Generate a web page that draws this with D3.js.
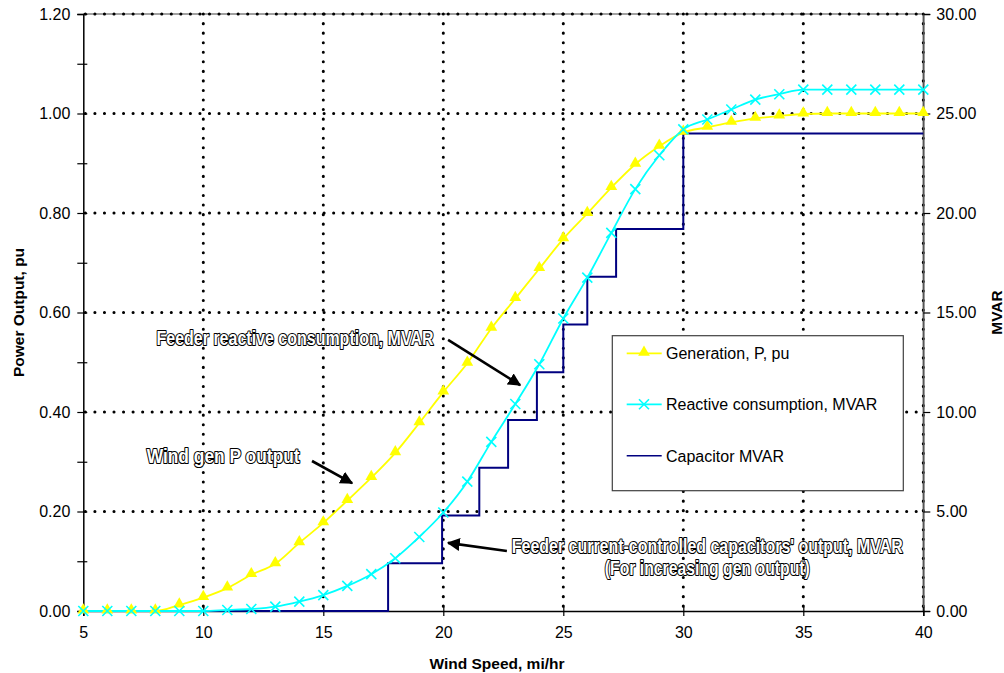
<!DOCTYPE html>
<html><head><meta charset="utf-8">
<script src="https://cdn.jsdelivr.net/npm/d3@7"></script>
<style>
html,body{margin:0;padding:0;background:#fff;}
svg{display:block;font-family:"Liberation Sans",Arial,sans-serif;}
</style></head>
<body><svg id="chart" width="1004" height="673"></svg>
<script>
// ---- data ----
const windSpeed = d3.range(5, 41); // 5..40 mi/hr
const generationPu = [0,0,0,0,0.012,0.027,0.046,0.073,0.095,0.137,0.177,0.222,0.268,0.318,0.378,0.44,0.498,0.568,0.628,0.688,0.748,0.799,0.851,0.898,0.934,0.962,0.972,0.982,0.99,0.995,0.999,1.0,1.0,1.0,1.0,1.0];
const reactiveMvar = [0,0,0,0,0,0,0.05,0.1,0.22,0.47,0.8,1.26,1.85,2.65,3.72,4.95,6.5,8.5,10.4,12.4,14.7,16.75,19.0,21.2,22.9,24.2,24.7,25.2,25.7,25.97,26.2,26.2,26.2,26.2,26.2,26.2];
const capStepSpeed = [5,17.7,19.95,21.5,22.7,23.9,25.0,26.0,27.2,30,40];
const capStepMvar  = [0,2.4,4.8,7.2,9.6,12,14.4,16.8,19.2,24,24];
const xTicks = [5,10,15,20,25,30,35,40];
const yLeftTicks = [0,0.2,0.4,0.6,0.8,1.0,1.2];
const yRightTicks = [0,5,10,15,20,25,30];
const legendLabels = ["Generation, P, pu","Reactive consumption, MVAR","Capacitor MVAR"];
const axisTitles = {x:"Wind Speed, mi/hr", yl:"Power Output, pu", yr:"MVAR"};
const notes = ["Feeder reactive consumption, MVAR","Wind gen P output","Feeder current-controlled capacitors' output, MVAR","(For increasing gen output)"];

// ---- layout ----
const L=83.3, R=923.3, T=14, B=611;
const svg = d3.select("#chart");
const x = d3.scaleLinear().domain([5,40]).range([L,R]);
const yL = d3.scaleLinear().domain([0,1.2]).range([B,T]);
const yR = d3.scaleLinear().domain([0,30]).range([B,T]);

const YEL="#FFFF00", CYN="#00FFFF", NAVY="#000080";

// plot border (gray top/right)
svg.append("line").attr("x1",L).attr("x2",R).attr("y1",T).attr("y2",T).attr("stroke","#808080").attr("stroke-width",1.5);
svg.append("line").attr("x1",R).attr("x2",R).attr("y1",T).attr("y2",B).attr("stroke","#606060").attr("stroke-width",1.5);

// gridlines (dotted)
const grid = svg.append("g").attr("stroke","#000").attr("stroke-width",3)
  .attr("stroke-linecap","round").attr("stroke-dasharray","0.1 9.45");
yLeftTicks.filter(d=>d>0).forEach(d=>{
  grid.append("line").attr("x1",L+2).attr("x2",R).attr("y1",yL(d)).attr("y2",yL(d));
});
xTicks.filter(d=>d>5).forEach(d=>{
  grid.append("line").attr("x1",x(d)).attr("x2",x(d)).attr("y1",T).attr("y2",B-2);
});

// axes
const axL = svg.append("g").attr("transform",`translate(${L},0)`)
  .call(d3.axisLeft(yL).tickValues(d3.range(0,1.21,0.1)).tickSize(6).tickFormat(d=>{
    const r=Math.round(d*10); return r%2===0? d3.format(".2f")(d):"";}));
axL.selectAll(".tick line").attr("x2",4).attr("x1",-6);
const axR = svg.append("g").attr("transform",`translate(${R},0)`)
  .call(d3.axisRight(yR).tickValues(yRightTicks).tickSize(7).tickFormat(d3.format(".2f")));
const axB = svg.append("g").attr("transform",`translate(0,${B})`)
  .call(d3.axisBottom(x).tickValues(xTicks).tickSize(5).tickFormat(d3.format("d")));
axB.selectAll(".tick line").attr("y1",-4).attr("y2",5);
[axL,axR,axB].forEach(a=>{
  a.select(".domain").attr("stroke","#000").attr("stroke-width",1.5);
  a.selectAll(".tick line").attr("stroke","#000").attr("stroke-width",1.2);
  a.selectAll("text").attr("font-size",16).attr("fill","#000").attr("font-family","Liberation Sans, Arial, sans-serif");
});
axL.selectAll("text").attr("x",-13);
axR.selectAll("text").attr("x",13);
axB.selectAll("text").attr("y",16);
axR.select(".domain").attr("stroke","#555");

// axis titles
svg.append("text").attr("x",497).attr("y",669).attr("text-anchor","middle")
  .attr("font-weight","bold").attr("font-size",15.5).text(axisTitles.x);
svg.append("text").attr("transform",`translate(24,${(T+B)/2}) rotate(-90)`).attr("text-anchor","middle")
  .attr("font-weight","bold").attr("font-size",15.5).text(axisTitles.yl);
svg.append("text").attr("transform",`translate(1002,${(T+B)/2}) rotate(-90)`).attr("text-anchor","middle")
  .attr("font-weight","bold").attr("font-size",15.5).text(axisTitles.yr);

// series
const genData = windSpeed.map((w,i)=>({w, v:generationPu[i]}));
const reaData = windSpeed.map((w,i)=>({w, v:reactiveMvar[i]}));
const capData = capStepSpeed.map((w,i)=>({w, v:capStepMvar[i]}));

svg.append("path").datum(genData).attr("fill","none").attr("stroke",YEL).attr("stroke-width",1.8)
  .attr("d",d3.line().x(d=>x(d.w)).y(d=>yL(d.v)).curve(d3.curveMonotoneX));
svg.append("path").datum(capData).attr("fill","none").attr("stroke",NAVY).attr("stroke-width",2)
  .attr("d",d3.line().x(d=>x(d.w)).y(d=>yR(d.v)).curve(d3.curveStepAfter));
svg.append("path").datum(reaData).attr("fill","none").attr("stroke",CYN).attr("stroke-width",1.8)
  .attr("d",d3.line().x(d=>x(d.w)).y(d=>yR(d.v)).curve(d3.curveMonotoneX));

const tri = d3.symbol().type(d3.symbolTriangle).size(60);
svg.append("g").selectAll("path").data(genData).join("path")
  .attr("transform",d=>`translate(${x(d.w)},${yL(d.v)-1})`).attr("d",tri).attr("fill",YEL);
const xs = 5;
svg.append("g").attr("stroke",CYN).attr("stroke-width",1.6).selectAll("path").data(reaData).join("path")
  .attr("d",d=>{const cx=x(d.w), cy=yR(d.v); return `M${cx-xs},${cy-xs}L${cx+xs},${cy+xs}M${cx-xs},${cy+xs}L${cx+xs},${cy-xs}`;});

// legend
const lg = svg.append("g");
lg.append("rect").attr("x",612.3).attr("y",335.7).attr("width",291).attr("height",155)
  .attr("fill","#fff").attr("stroke","#404040").attr("stroke-width",1.2);
const rows=[353.3,404.3,455.7];
const cols=[YEL,CYN,NAVY];
rows.forEach((ry,i)=>{
  lg.append("line").attr("x1",626.7).attr("x2",661.7).attr("y1",ry).attr("y2",ry)
    .attr("stroke",cols[i]).attr("stroke-width",i===2?1.6:1.8);
  if(i===0) lg.append("path").attr("d",tri).attr("transform",`translate(644,${ry-1})`).attr("fill",YEL);
  if(i===1) lg.append("path").attr("d",`M${644-xs},${ry-xs}L${644+xs},${ry+xs}M${644-xs},${ry+xs}L${644+xs},${ry-xs}`)
    .attr("stroke",CYN).attr("stroke-width",1.6);
  lg.append("text").attr("x",666).attr("y",ry+6).attr("font-size",16).text(legendLabels[i]);
});

// annotations
const defs = svg.append("defs");
defs.append("marker").attr("id","ah").attr("viewBox","0 0 10 10").attr("refX",9).attr("refY",5)
  .attr("markerWidth",5).attr("markerHeight",5).attr("orient","auto").attr("markerUnits","strokeWidth")
  .append("path").attr("d","M0,0L10,5L0,10Z").attr("fill","#000");
function note(txt, px, py, w, anchor){
  svg.append("text").attr("x",px).attr("y",py).attr("text-anchor",anchor||"start")
    .attr("font-weight","bold").attr("font-size",20)
    .attr("textLength",w).attr("lengthAdjust","spacingAndGlyphs")
    .attr("fill","#fff").attr("stroke","#000").attr("stroke-width",2.2)
    .attr("paint-order","stroke").attr("stroke-linejoin","round").text(txt);
}
function arrow(x1,y1,x2,y2){
  svg.append("line").attr("x1",x(x1)).attr("y1",yL(y1)).attr("x2",x(x2)).attr("y2",yL(y2))
    .attr("stroke","#000").attr("stroke-width",2.6).attr("marker-end","url(#ah)");
}
note(notes[0], x(8.05), yL(0.534), 277);
note(notes[1], x(7.64), yL(0.2975), 153);
note(notes[2], x(31.0), yL(0.1166), 391, "middle");
note(notes[3], x(31.0), yL(0.0714), 205, "middle");
arrow(20.2,0.545,23.2,0.454);
arrow(14.53,0.3015,16.2,0.257);
arrow(22.65,0.1206,20.2,0.137);
</script></body></html>
